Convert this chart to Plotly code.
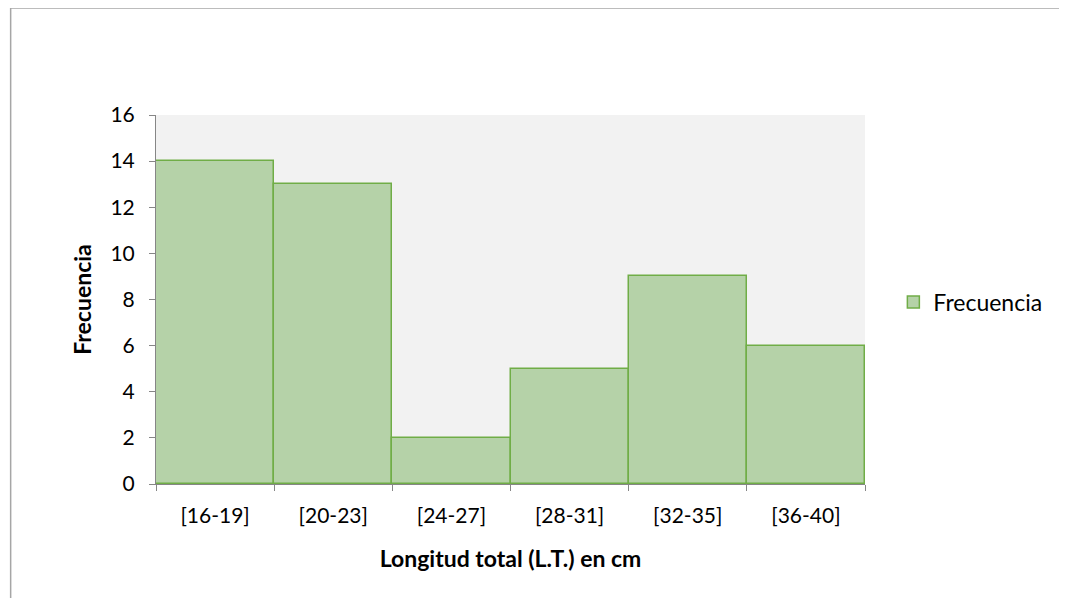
import plotly.graph_objects as go

categorias = ["[16-19]", "[20-23]", "[24-27]", "[28-31]", "[32-35]", "[36-40]"]
frecuencia = [14, 13, 2, 5, 9, 6]
y_ticks = [0, 2, 4, 6, 8, 10, 12, 14, 16]

FONT = "Lato, sans-serif"

fig = go.Figure()
fig.add_trace(go.Bar(
    x=categorias,
    y=frecuencia,
    name="Frecuencia",
    marker=dict(color="#B5D2A8", line=dict(color="#70AD47", width=1.5)),
    width=1,
))

fig.update_layout(
    width=1067,
    height=598,
    margin=dict(l=148, r=210, t=107, b=122),
    paper_bgcolor="white",
    plot_bgcolor="#F2F2F2",
    font=dict(family=FONT, size=21, color="#000000"),
    bargap=0,
    showlegend=True,
    legend=dict(x=1.04, y=0.493, xanchor="left", yanchor="middle",
                font=dict(size=23), bgcolor="rgba(0,0,0,0)", itemwidth=30),
    shapes=[
        dict(type="line", xref="paper", yref="paper", x0=-0.205, x1=2, y0=1.29, y1=1.29,
             line=dict(color="#A6A6A6", width=1.5)),
        dict(type="line", xref="paper", yref="paper", x0=-0.205, x1=-0.205, y0=1.29, y1=-1,
             line=dict(color="#A6A6A6", width=1.5)),
    ],
)

fig.update_xaxes(
    type="category",
    range=[-0.5, 5.5],
    showline=True, linecolor="#868686", linewidth=1,
    ticks="outside", tickson="boundaries", ticklen=6, tickcolor="#868686",
    ticklabelstandoff=13,
    showgrid=False,
    title=dict(text="<b>Longitud total (L.T.) en cm</b>", font=dict(size=23), standoff=24),
)
fig.update_yaxes(
    range=[0, 16],
    tickvals=y_ticks,
    showline=True, linecolor="#868686", linewidth=1,
    ticks="outside", ticklen=6, tickcolor="#868686",
    ticklabelstandoff=10,
    showgrid=False, zeroline=False,
    title=dict(text="<b>Frecuencia</b>", font=dict(size=23), standoff=12),
)

fig.write_html("out.html")
